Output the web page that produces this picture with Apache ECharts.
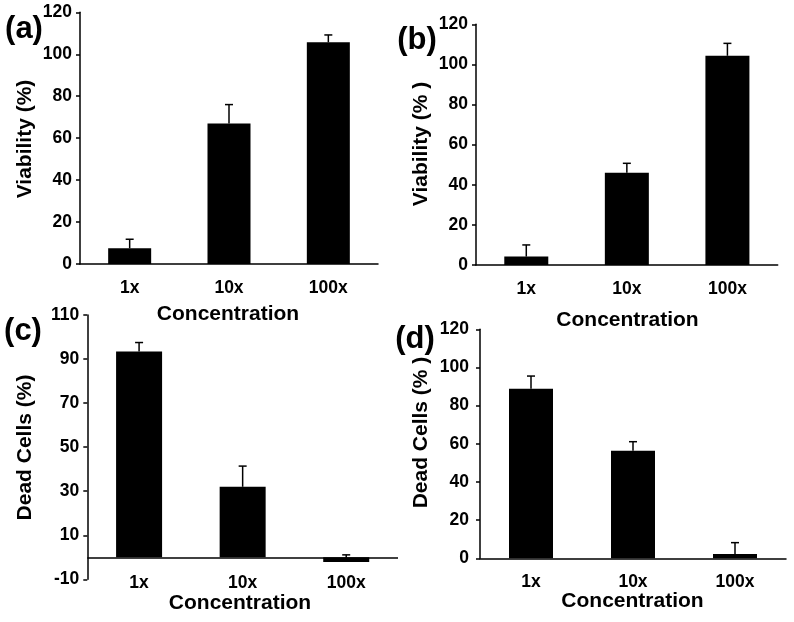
<!DOCTYPE html>
<html>
<head>
<meta charset="utf-8">
<script src="https://cdn.jsdelivr.net/npm/echarts@6/dist/echarts.min.js"></script>
<style>html,body{margin:0;padding:0;background:#fff}#c{width:794px;height:622px}</style>
</head>
<body>
<div id="c"></div>
<script>
const categories = ['1x', '10x', '100x'];
const viabilityA = [7.5, 67, 105.7];
const errorA = [4.3, 9, 3.5];
const viabilityB = [4.2, 46, 104.3];
const errorB = [5.8, 4.7, 6.2];
const deadC = [93.4, 32, -2.2];
const errorC = [4.1, 9.4, 3.3];
const deadD = [88.9, 56.4, 2.3];
const errorD = [6.6, 4.7, 5.9];
const yTicksAB = { min: 0, max: 120, interval: 20 };
const yTicksC = { min: -10, max: 110, interval: 20 };
const yTicksD = { min: 0, max: 120, interval: 20 };

const FONT = 'Liberation Sans, Arial, sans-serif';
const chart = echarts.init(document.getElementById('c'), null, { renderer: 'canvas' });

const grids = [
  { left: 80, top: 12.3, width: 298, height: 251.7 },
  { left: 476, top: 24.3, width: 301.7, height: 240.7 },
  { left: 87.3, top: 315, width: 310.7, height: 264.3 },
  { left: 480, top: 329.3, width: 306, height: 229 }
];
const yRanges = [yTicksAB, yTicksAB, yTicksC, yTicksD];
const labelMarginsX = [15, 15, -5, 15];
const labelMarginsY = [8, 8, 8, 11];

function xAxis(i) {
  return {
    type: 'category', gridIndex: i, data: categories,
    axisLine: { show: i !== 2, onZero: false, lineStyle: { color: '#000', width: 1.5 } },
    axisTick: { show: false },
    axisLabel: { color: '#000', fontFamily: FONT, fontWeight: 'bold', fontSize: 17.5, margin: labelMarginsX[i] }
  };
}
function yAxis(i) {
  const r = yRanges[i];
  return {
    type: 'value', gridIndex: i, min: r.min, max: r.max, interval: r.interval,
    splitLine: { show: false },
    axisLine: { show: true, lineStyle: { color: '#000', width: 1.5 } },
    axisTick: { show: true, length: 4, lineStyle: { color: '#000', width: 1.5 } },
    axisLabel: { color: '#000', fontFamily: FONT, fontWeight: 'bold', fontSize: 17.5, margin: labelMarginsY[i] }
  };
}
function errRender(params, api) {
  const x = api.value(0), v = api.value(1), e = api.value(2);
  const p0 = api.coord([x, v]);
  const p1 = api.coord([x, v + e]);
  return {
    type: 'group',
    children: [
      { type: 'line', shape: { x1: p0[0], y1: p0[1], x2: p1[0], y2: p1[1] }, style: { stroke: '#000', lineWidth: 1.5 } },
      { type: 'line', shape: { x1: p1[0] - 4, y1: p1[1], x2: p1[0] + 4, y2: p1[1] }, style: { stroke: '#000', lineWidth: 1.5 } }
    ]
  };
}
const values = [viabilityA, viabilityB, deadC, deadD];
const errors = [errorA, errorB, errorC, errorD];
const barWidths = [43, 44, 46, 44];
const series = [];
values.forEach((vals, i) => {
  const bar = {
    type: 'bar', xAxisIndex: i, yAxisIndex: i, data: vals, barWidth: barWidths[i],
    itemStyle: { color: '#000' }
  };
  if (i === 2) {
    bar.markLine = {
      silent: true, symbol: 'none', label: { show: false },
      lineStyle: { color: '#000', width: 1.5, type: 'solid' },
      data: [{ yAxis: 0 }]
    };
  }
  series.push(bar);
  series.push({
    type: 'custom', xAxisIndex: i, yAxisIndex: i,
    data: vals.map((v, k) => [k, v, errors[i][k]]),
    encode: { x: 0, y: 1 },
    renderItem: errRender, z: 3
  });
});

function txt(text, x, y, size, rot) {
  return {
    type: 'text', x: x, y: y, rotation: rot || 0,
    style: { text: text, font: 'bold ' + size + 'px ' + FONT, fill: '#000', align: 'center', verticalAlign: 'middle' }
  };
}
const graphic = [
  txt('(a)', 24, 29, 31),
  txt('(b)', 417, 40, 31),
  txt('(c)', 23, 331, 31),
  txt('(d)', 415, 339, 31),
  txt('Viability (%)', 25.7, 139, 21, Math.PI / 2),
  txt('Viability (% )', 421.7, 144, 21, Math.PI / 2),
  txt('Dead Cells (%)', 25.7, 447.5, 21, Math.PI / 2),
  txt('Dead Cells (% )', 421, 432.5, 21, Math.PI / 2),
  txt('Concentration', 228, 314, 21),
  txt('Concentration', 627.5, 320, 21),
  txt('Concentration', 240, 603, 21),
  txt('Concentration', 632.5, 601.5, 21)
];

chart.setOption({
  animation: false,
  backgroundColor: '#fff',
  grid: grids,
  xAxis: [0, 1, 2, 3].map(xAxis),
  yAxis: [0, 1, 2, 3].map(yAxis),
  series: series,
  graphic: graphic
});
</script>
</body>
</html>
